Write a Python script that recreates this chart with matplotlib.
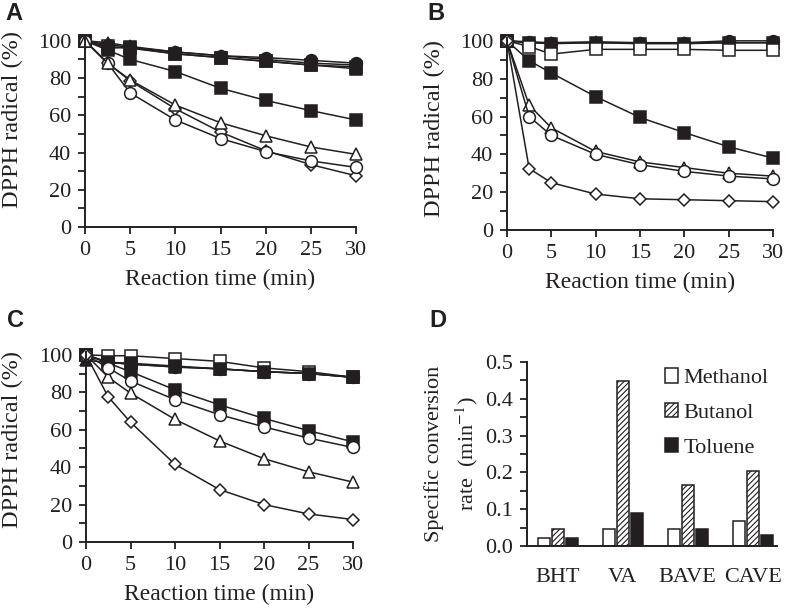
import numpy as np
import matplotlib
matplotlib.use('Agg')
import matplotlib.pyplot as plt
from matplotlib.ticker import MultipleLocator
from matplotlib.patches import Patch

plt.rcParams['font.family'] = ['Liberation Serif', 'DejaVu Serif']
plt.rcParams['mathtext.fontset'] = 'stix'
plt.rcParams['hatch.linewidth'] = 0.8

INK = '#231f20'
TICK_FS = 16
LAB_FS = 17

# time points (min)
t = [0, 2.5, 5, 10, 15, 20, 25, 30]

# panel A
a_fcircle = [100, 98, 96.5, 94, 92, 91, 89.5, 88]
a_ftri = [100, 99, 97, 94, 92, 90, 88, 87]
a_osq = [100, 97, 96, 93, 91, 89, 87, 86]
a_fsq_top = [100, 96, 96.5, 93, 91, 89, 87, 85]
a_fsq = [100, 95, 90, 83.5, 74.5, 68, 62.5, 57.5]
a_otri = [100, 88, 79, 65.5, 56, 49, 43, 39]
a_ocircle = [100, 88, 72, 57.5, 47.5, 40.5, 35.5, 32]
a_odiam = [100, 88, 78.5, 63.5, 51, 41, 33.5, 27.5]

# panel B
b_fcircle = [100, 99.5, 99, 99, 99, 99, 100, 100]
b_ftri = [100, 99, 99, 99.5, 99, 99, 99, 99]
b_osq = [100, 97, 93, 95.5, 95.5, 95.5, 95, 95]
b_fsq_top = [100, 99, 98.5, 99, 98.5, 98.5, 99, 99]
b_fsq = [100, 89.5, 83, 70.5, 59.5, 51.5, 44, 38]
b_otri = [100, 66, 54, 41.5, 36, 33, 30, 28.5]
b_ocircle = [100, 60, 50, 40, 34.5, 31, 28.5, 27]
b_odiam = [100, 32.5, 25, 19, 16.5, 16, 15.5, 15]

# panel C
c_fcircle = [100, 96, 95, 93.5, 92.5, 91, 90, 88]
c_ftri = [97, 96, 95, 93.5, 92.5, 91, 90, 88]
c_osq = [100, 99.5, 99.5, 98, 96.5, 93, 91, 88]
c_fsq_top = [100, 96, 95.5, 94, 92.5, 91, 90, 88]
c_fsq = [100, 95.5, 91, 81.3, 73.3, 66, 59.5, 53.5]
c_otri = [100, 88, 79.5, 65.5, 54, 44.5, 37.5, 32]
c_ocircle = [100, 93, 86, 76, 68, 61.5, 55.5, 50.5]
c_odiam = [100, 77.5, 64, 41.5, 28, 20, 15, 12]

# panel D
compounds = ['BHT', 'VA', 'BAVE', 'CAVE']
methanol = [0.022, 0.047, 0.046, 0.067]
butanol = [0.045, 0.449, 0.165, 0.205]
toluene = [0.022, 0.091, 0.046, 0.031]

W, H = 788, 611
fig = plt.figure(figsize=(W / 100, H / 100), dpi=100)


def ax_at(x0, x1, ytop, ybot):
    return fig.add_axes([x0 / W, 1 - ybot / H, (x1 - x0) / W, (ybot - ytop) / H])


def style_line_ax(ax, ylab_x, ylab_y):
    ax.set_xlim(0, 30)
    ax.set_ylim(0, 101.5)
    ax.spines['top'].set_visible(False)
    ax.spines['right'].set_visible(False)
    for s in ('left', 'bottom'):
        ax.spines[s].set_linewidth(1.4)
        ax.spines[s].set_color(INK)
    ax.set_xticks([0, 5, 10, 15, 20, 25, 30])
    ax.set_yticks([0, 20, 40, 60, 80, 100])
    ax.yaxis.set_minor_locator(MultipleLocator(10))
    ax.tick_params(which='both', direction='out', width=1.3, length=5, color=INK,
                   labelsize=TICK_FS, labelcolor=INK, pad=5)
    ax.set_xlabel('Reaction time (min)', fontsize=LAB_FS, color=INK, labelpad=6.5)
    ax.set_ylabel('DPPH radical (%)', fontsize=17.5, color=INK)
    ax.yaxis.set_label_coords(ylab_x, ylab_y)


def draw_panel(ax, series, ylab_x, ylab_y):
    for ys, marker, filled in series:
        ms = {'s': 8, 'o': 8.5, '^': 8.5, 'D': 6.3}[marker]
        ax.plot(t, ys, color=INK, lw=1.1, marker=marker, ms=ms,
                mfc=INK if filled else 'white', mec=INK, mew=1.1, clip_on=False)
    style_line_ax(ax, ylab_x, ylab_y)


axA = ax_at(85, 356, 38, 227)
draw_panel(axA, [(a_osq, 's', False), (a_ftri, '^', True), (a_fcircle, 'o', True),
                 (a_fsq_top, 's', True), (a_fsq, 's', True), (a_odiam, 'D', False),
                 (a_ocircle, 'o', False), (a_otri, '^', False)], -0.229, 0.57)

axB = ax_at(507, 773, 38, 230)
draw_panel(axB, [(b_fsq_top, 's', True), (b_fcircle, 'o', True), (b_ftri, '^', True),
                 (b_osq, 's', False), (b_fsq, 's', True), (b_otri, '^', False),
                 (b_ocircle, 'o', False), (b_odiam, 'D', False)], -0.233, 0.53)

axC = ax_at(86, 353, 352, 542)
draw_panel(axC, [(c_osq, 's', False), (c_ftri, '^', True), (c_fcircle, 'o', True),
                 (c_fsq_top, 's', True), (c_fsq, 's', True), (c_otri, '^', False),
                 (c_ocircle, 'o', False), (c_odiam, 'D', False)], -0.236, 0.54)

# panel D bars
axD = ax_at(527, 777, 362, 546)
x = np.arange(len(compounds))
bw = 0.185
off = 0.215
axD.bar(x - off, methanol, bw, color='white', edgecolor=INK, lw=1.1)
axD.bar(x, butanol, bw, color='white', edgecolor=INK, lw=1.1, hatch='//////')
axD.bar(x + off, toluene, bw, color=INK, edgecolor=INK, lw=1.1)
axD.set_xlim(-0.47, 3.37)
axD.set_ylim(0, 0.5)
axD.spines['top'].set_visible(False)
axD.spines['right'].set_visible(False)
for s in ('left', 'bottom'):
    axD.spines[s].set_linewidth(1.4)
    axD.spines[s].set_color(INK)
axD.set_xticks(x)
axD.set_xticklabels(compounds)
axD.yaxis.set_major_locator(MultipleLocator(0.1))
axD.yaxis.set_minor_locator(MultipleLocator(0.05))
axD.yaxis.set_major_formatter(plt.FormatStrFormatter('%.1f'))
axD.tick_params(which='both', direction='out', width=1.3, length=5, color=INK,
                labelsize=TICK_FS, labelcolor=INK, pad=5)
axD.tick_params(axis='x', length=0, pad=16)
axD.set_ylabel('Specific conversion\nrate  (min$^{-1}$)', fontsize=16, color=INK,
               linespacing=1.45)
axD.yaxis.set_label_coords(-0.19, 0.5)

handles = [Patch(facecolor='white', edgecolor=INK, lw=1.1),
           Patch(facecolor='white', edgecolor=INK, lw=1.1, hatch='//////'),
           Patch(facecolor=INK, edgecolor=INK, lw=1.1)]
axD.legend(handles, ['Methanol', 'Butanol', 'Toluene'], loc='upper left',
           bbox_to_anchor=(0.55, 0.965), frameon=False, fontsize=16,
           borderpad=0, borderaxespad=0,
           handlelength=0.6, handleheight=0.6, handletextpad=0.25, labelspacing=0.67,
           labelcolor=INK)

# panel letters
for lab, px, py in [('A', 5, 20), ('B', 427, 20), ('C', 7, 327), ('D', 429, 327)]:
    fig.text(px / W, 1 - py / H, lab, fontsize=17, fontweight='bold', va='baseline',
             family=['Liberation Sans', 'DejaVu Sans'], color=INK)

fig.savefig('out.png', dpi=100)
